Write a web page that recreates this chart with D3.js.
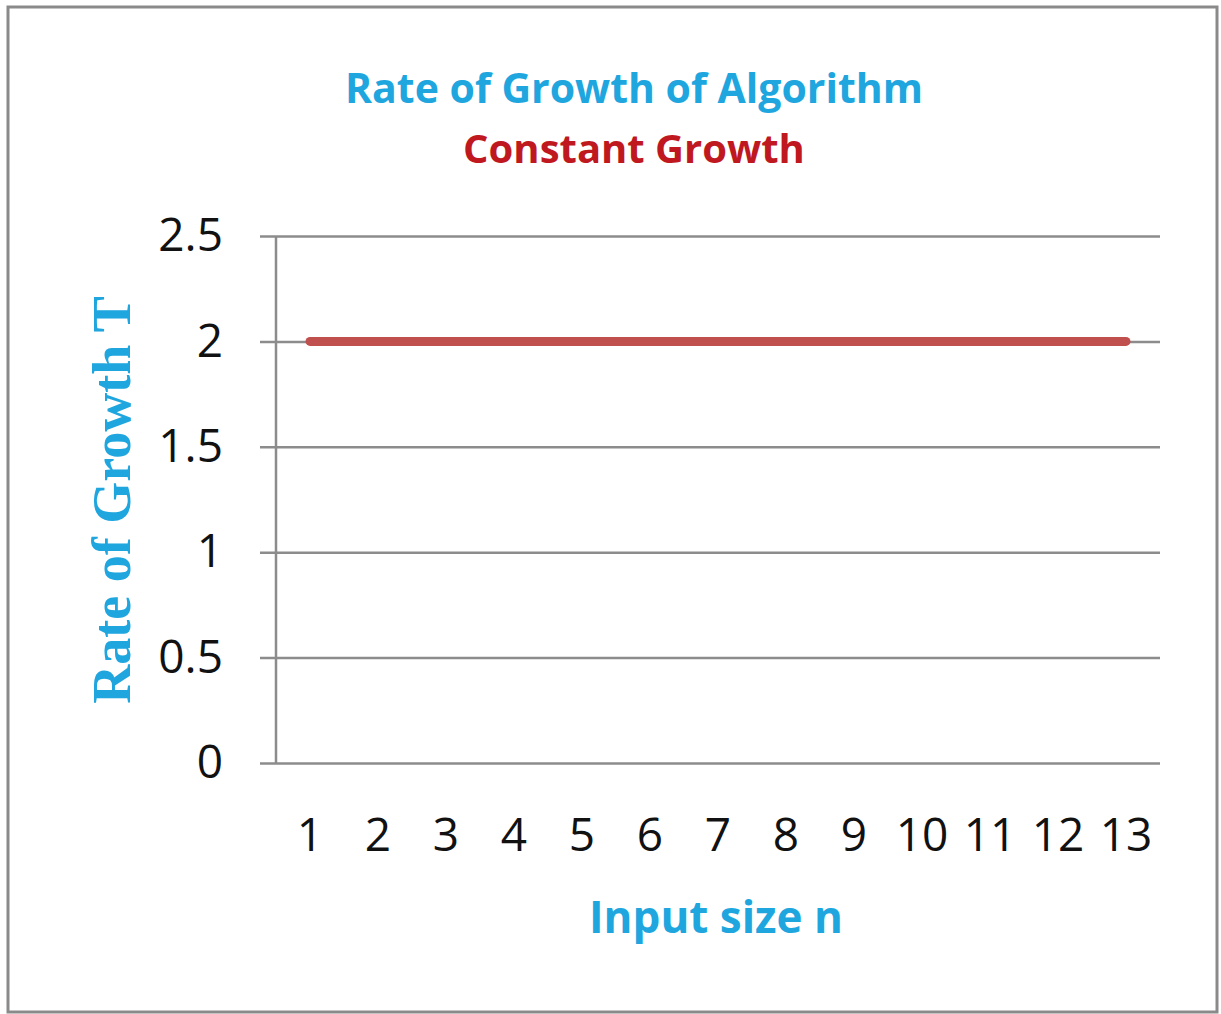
<!DOCTYPE html>
<html>
<head>
<meta charset="utf-8">
<script src="https://cdn.jsdelivr.net/npm/d3@7"></script>
<style>
  html, body { margin: 0; padding: 0; background: #fff; }
</style>
</head>
<body>
<div id="chart"></div>
<script>
// data
const inputSizes = [1, 2, 3, 4, 5, 6, 7, 8, 9, 10, 11, 12, 13];
const growthValues = [2, 2, 2, 2, 2, 2, 2, 2, 2, 2, 2, 2, 2];
const yTicks = [0, 0.5, 1, 1.5, 2, 2.5];
const chartTitle = "Rate of Growth of Algorithm";
const seriesTitle = "Constant Growth";
const xTitle = "Input size n";
const yTitle = "Rate of Growth T";

const W = 1221, H = 1014;
const svg = d3.select("#chart").append("svg")
  .attr("width", W)
  .attr("height", H);

// outer frame
svg.append("rect")
  .attr("x", 8).attr("y", 7)
  .attr("width", 1209).attr("height", 1005)
  .attr("fill", "#fff")
  .attr("stroke", "#8a8a8a")
  .attr("stroke-width", 3);

const margin = { top: 236, right: 61, bottom: 251, left: 276 };
const width = W - margin.left - margin.right;
const height = H - margin.top - margin.bottom;

const g = svg.append("g")
  .attr("transform", `translate(${margin.left},${margin.top})`);

const x = d3.scaleBand().domain(inputSizes).range([0, width]);
const y = d3.scaleLinear().domain([0, 2.5]).range([height, 0]);

const font = "'Open Sans', 'DejaVu Sans', sans-serif";
const cyan = "#20a6df";

// gridlines (with outside tick)
g.append("g")
  .call(d3.axisLeft(y).tickValues(yTicks).tickSize(-(width + 16)).tickFormat(""))
  .attr("transform", "translate(-16,0)")
  .call(a => a.select(".domain").remove())
  .selectAll("line")
    .attr("stroke", "#8c8c8c")
    .attr("stroke-width", 2.5);

// y axis line
g.append("line")
  .attr("x1", 0).attr("x2", 0)
  .attr("y1", 0).attr("y2", height)
  .attr("stroke", "#8c8c8c")
  .attr("stroke-width", 2.5);

// y tick labels
g.append("g")
  .call(d3.axisLeft(y).tickValues(yTicks).tickSize(0).tickPadding(53).tickFormat(d => d))
  .call(a => a.select(".domain").remove())
  .selectAll("text")
    .attr("font-family", font)
    .attr("font-size", 46)
    .attr("fill", "#111");

// x tick labels
g.append("g")
  .attr("transform", `translate(0,${height})`)
  .call(d3.axisBottom(x).tickSize(0).tickPadding(55))
  .call(a => a.select(".domain").remove())
  .selectAll("text")
    .attr("font-family", font)
    .attr("font-size", 46)
    .attr("fill", "#111");

// line
const line = d3.line()
  .x((d, i) => x(inputSizes[i]) + x.bandwidth() / 2)
  .y(d => y(d));

g.append("path")
  .datum(growthValues)
  .attr("fill", "none")
  .attr("stroke", "#c0504d")
  .attr("stroke-width", 9)
  .attr("stroke-linecap", "round")
  .attr("d", line);

// titles
svg.append("text")
  .attr("x", 634).attr("y", 103)
  .attr("text-anchor", "middle")
  .attr("font-family", font)
  .attr("font-weight", "bold")
  .attr("font-size", 41)
  .attr("fill", cyan)
  .text(chartTitle);

svg.append("text")
  .attr("x", 634).attr("y", 163)
  .attr("text-anchor", "middle")
  .attr("font-family", font)
  .attr("font-weight", "bold")
  .attr("font-size", 40)
  .attr("fill", "#c0181f")
  .text(seriesTitle);

svg.append("text")
  .attr("x", 716).attr("y", 933)
  .attr("text-anchor", "middle")
  .attr("font-family", font)
  .attr("font-weight", "bold")
  .attr("font-size", 44)
  .attr("fill", cyan)
  .text(xTitle);

svg.append("text")
  .attr("transform", "translate(130,500) rotate(-90)")
  .attr("text-anchor", "middle")
  .attr("font-family", "'Liberation Serif', 'DejaVu Serif', serif")
  .attr("font-weight", "bold")
  .attr("font-size", 54)
  .attr("fill", cyan)
  .text(yTitle);
</script>
</body>
</html>
